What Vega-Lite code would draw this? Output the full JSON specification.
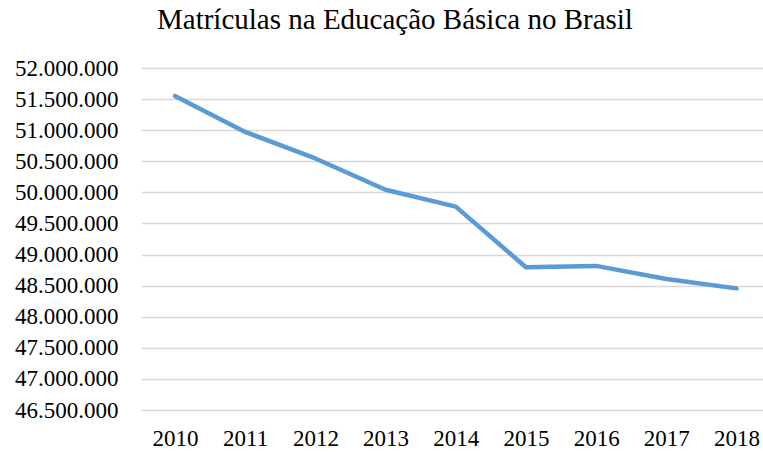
{
  "$schema": "https://vega.github.io/schema/vega-lite/v6.json",
  "autosize": {"type": "none"},
  "padding": {"left": 141, "top": 68, "right": 0, "bottom": 42},
  "width": 622,
  "height": 342,
  "background": "white",
  "title": {
    "text": "Matrículas na Educação Básica no Brasil",
    "anchor": "start",
    "frame": "group",
    "dx": 16,
    "offset": 22,
    "font": "Liberation Serif",
    "fontSize": 29,
    "fontWeight": "normal",
    "color": "#000000"
  },
  "data": {
    "values": [
      {"ano": "2010", "matriculas": 51549889},
      {"ano": "2011", "matriculas": 50972619},
      {"ano": "2012", "matriculas": 50545050},
      {"ano": "2013", "matriculas": 50042448},
      {"ano": "2014", "matriculas": 49771371},
      {"ano": "2015", "matriculas": 48796512},
      {"ano": "2016", "matriculas": 48817479},
      {"ano": "2017", "matriculas": 48608093},
      {"ano": "2018", "matriculas": 48455867}
    ]
  },
  "config": {
    "view": {"stroke": null},
    "axis": {
      "labelFont": "Liberation Serif",
      "labelFontSize": 23,
      "labelColor": "#000000",
      "domain": false,
      "ticks": false,
      "title": null
    }
  },
  "mark": {"type": "line", "color": "#5B9BD5", "strokeWidth": 4.5, "strokeCap": "round", "strokeJoin": "round"},
  "encoding": {
    "x": {
      "field": "ano",
      "type": "ordinal",
      "scale": {"type": "point", "padding": 0.431, "align": 0.562},
      "axis": {"labelAngle": 0, "labelPadding": 17, "grid": false}
    },
    "y": {
      "field": "matriculas",
      "type": "quantitative",
      "scale": {"domain": [46500000, 52000000], "nice": false, "zero": false},
      "axis": {
        "values": [46500000, 47000000, 47500000, 48000000, 48500000, 49000000, 49500000, 50000000, 50500000, 51000000, 51500000, 52000000],
        "labelExpr": "replace(format(datum.value, ',.0f'), /,/g, '.')",
        "labelPadding": 23,
        "grid": true,
        "gridColor": "#D9D9D9",
        "gridWidth": 1.5
      }
    }
  }
}
